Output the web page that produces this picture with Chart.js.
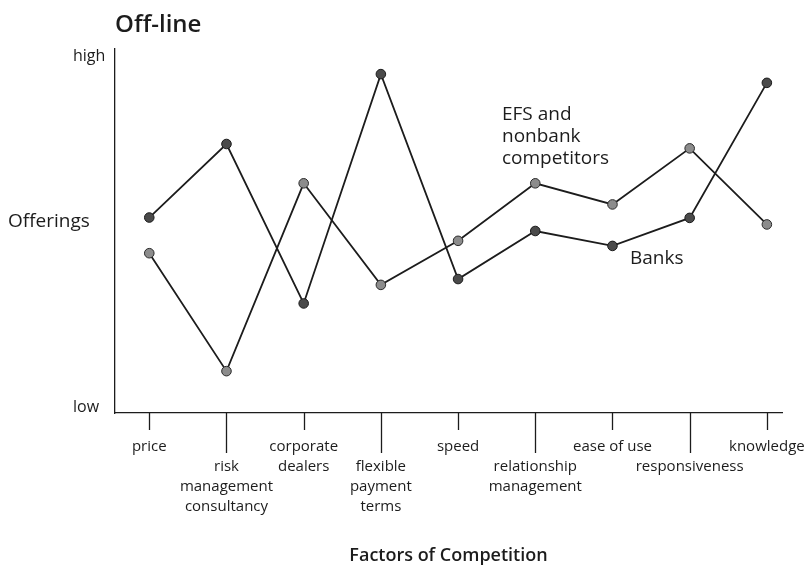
<!DOCTYPE html>
<html>
<head>
<meta charset="utf-8">
<script src="https://cdn.jsdelivr.net/npm/chart.js@4/dist/chart.umd.min.js"></script>
<style>
  html, body { margin: 0; padding: 0; background: #fff; }
</style>
</head>
<body>
<canvas id="myChart" width="804" height="567"></canvas>
<script>
// factors of competition (leading "" pushes the label to the lower row)
const factors = [
  ["price"],
  ["", "risk", "management", "consultancy"],
  ["corporate", "dealers"],
  ["", "flexible", "payment", "terms"],
  ["speed"],
  ["", "relationship", "management"],
  ["ease of use"],
  ["", "responsiveness"],
  ["knowledge"],
];
const banks = [5.37, 7.39, 3.01, 9.31, 3.68, 5.0, 4.59, 5.36, 9.07];
const efs = [4.39, 1.15, 6.31, 3.52, 4.73, 6.31, 5.73, 7.27, 5.18];
const yTickValues = [0.15, 9.8];
const yTickLabels = ["low", "high"];

const ink = "#1c1c1c";
const font = "'Open Sans', sans-serif";

const extras = {
  id: "extras",
  afterDraw(chart) {
    const ctx = chart.ctx;
    const x = chart.scales.x;
    const y = chart.scales.y;
    ctx.save();
    // hanging tick marks, short and long alternating
    ctx.strokeStyle = ink;
    ctx.lineWidth = 1.3;
    factors.forEach((f, i) => {
      const px = Math.round(x.getPixelForValue(i)) + 0.5;
      const len = i % 2 ? 40 : 17;
      ctx.beginPath();
      ctx.moveTo(px, y.bottom);
      ctx.lineTo(px, y.bottom + len);
      ctx.stroke();
    });
    ctx.fillStyle = ink;
    ctx.textBaseline = "middle";
    ctx.textAlign = "left";
    ctx.font = "600 24px " + font;
    ctx.fillText("Off-line", 115, 25);
    ctx.font = "19px " + font;
    ctx.fillText("Offerings", 8, 222);
    ctx.font = "500 19px " + font;
    ["EFS and", "nonbank", "competitors"].forEach((t, k) => {
      ctx.fillText(t, 502, 115 + k * 22);
    });
    ctx.fillText("Banks", 630, 259);
    ctx.restore();
  },
};

const myChart = document.querySelector("#myChart");

new Chart(myChart, {
  type: "line",
  data: {
    datasets: [
      {
        label: "EFS and nonbank competitors",
        data: efs.map((v, i) => ({ x: i, y: v })),
        borderColor: ink,
        borderWidth: 1.8,
        pointRadius: 4.8,
        pointBackgroundColor: "#8c8c8c",
        pointBorderColor: "#2a2a2a",
        pointBorderWidth: 1,
      },
      {
        label: "Banks",
        data: banks.map((v, i) => ({ x: i, y: v })),
        borderColor: ink,
        borderWidth: 1.8,
        pointRadius: 4.8,
        pointBackgroundColor: "#4a4a4a",
        pointBorderColor: "#1a1a1a",
        pointBorderWidth: 1,
      },
    ],
  },
  options: {
    responsive: false,
    animation: false,
    layout: { padding: { left: 73, top: 49, right: 22, bottom: 0 } },
    plugins: {
      legend: { display: false },
      tooltip: { enabled: false },
    },
    scales: {
      x: {
        type: "linear",
        min: -0.444,
        max: 8.196,
        afterBuildTicks: (scale) => {
          scale.ticks = factors.map((f, i) => ({ value: i }));
        },
        afterFit: (scale) => {
          scale.height = 154;
          scale.paddingLeft = 0;
          scale.paddingRight = 0;
        },
        grid: { display: false, drawTicks: false },
        border: { color: ink, width: 1.3 },
        ticks: {
          autoSkip: false,
          maxRotation: 0,
          padding: 24,
          color: ink,
          font: { family: font, size: 15, lineHeight: 1.33 },
          callback: (v, i) => factors[i],
        },
        title: {
          display: true,
          text: "Factors of Competition",
          color: ink,
          font: { family: font, size: 18, weight: "600" },
          padding: { top: 26, bottom: 0 },
        },
      },
      y: {
        min: 0,
        max: 10,
        afterBuildTicks: (scale) => {
          scale.ticks = yTickValues.map((v) => ({ value: v }));
        },
        afterFit: (scale) => {
          scale.width = 42;
          scale.paddingTop = 0;
          scale.paddingBottom = 0;
        },
        grid: { display: false, drawTicks: false },
        border: { color: ink, width: 1.3 },
        ticks: {
          crossAlign: "far",
          padding: 0,
          color: ink,
          font: { family: font, size: 16 },
          callback: (v, i) => yTickLabels[i],
        },
      },
    },
  },
  plugins: [extras],
});
</script>
</body>
</html>
